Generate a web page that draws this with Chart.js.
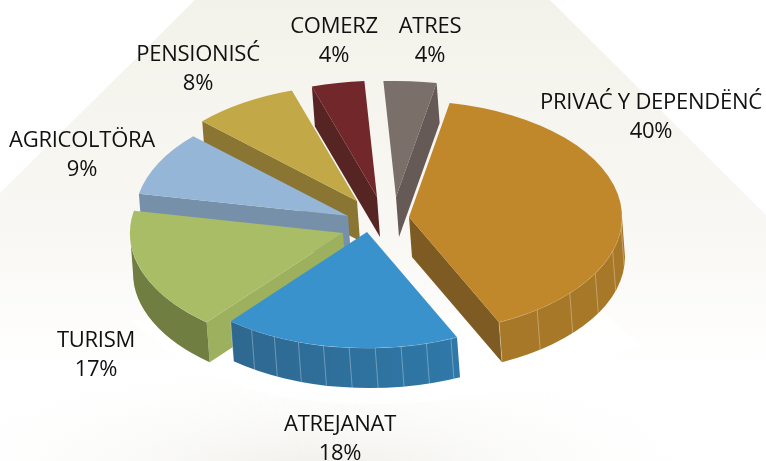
<!DOCTYPE html>
<html>
<head>
<meta charset="utf-8">
<title>Pie</title>
<script src="https://cdn.jsdelivr.net/npm/chart.js@4"></script>
<style>
  html, body { margin: 0; padding: 0; background: #fff; }
  canvas { display: block; }
</style>
</head>
<body>
<canvas id="pieChart" width="766" height="461"></canvas>
<script>
/* ===== DATA ===== */
const categories = ["PRIVAĆ Y DEPENDËNĆ", "ATREJANAT", "TURISM", "AGRICOLTÖRA", "PENSIONISĆ", "COMERZ", "ATRES"];
const shares = [40, 18, 17, 9, 8, 4, 4];

/* ===== STYLE ===== */
const topColors = ["#C1882B", "#3A92CC", "#A8BD66", "#95B6D6", "#C2A846", "#72272A", "#7B6F69"];
const wallColors = ["#A87829", "#2E6890", "#707E42", "#7790AA", "#8A7532", "#562423", "#655A55"];
const wallColorsEnd = ["#A87829", "#2F78A8", "#707E42", "#7790AA", "#8A7532", "#562423", "#655A55"];
const cutColors = ["#7E5B22", "#2E6890", "#9DB05D", "#7790AA", "#8A7532", "#562423", "#655A55"];
const ribSteps = [12, 7, 0, 0, 0, 0, 0];

// pieces are pulled apart by hand in the picture, not only along their middle angle
const pullX = [36, -6, -30, -25, -16, 4, 23];
const pullY = [1, 16, 17, 0, -15, -19, -19];
const wallOrder = [6, 5, 4, 3, 0, 2, 1];

const labelX = [651, 340, 96, 82, 198, 334, 430];
const labelY = [109, 431, 347, 147, 61, 33, 33];

const tilt = 0.545;
const pieY = 216;
const depth = 40;
const depthX = 3;

function toScreenY(chart, y) {
  const mid = (chart.chartArea.top + chart.chartArea.bottom) / 2;
  return pieY + (y - mid) * tilt;
}

function drawBackdrop(ctx) {
  const fan = ctx.createLinearGradient(0, 0, 0, 370);
  fan.addColorStop(0, "#F3F2EA");
  fan.addColorStop(0.6, "#F8F7F3");
  fan.addColorStop(1, "#FFFFFF");
  ctx.fillStyle = fan;
  ctx.beginPath();
  ctx.moveTo(195, 0);
  ctx.lineTo(550, 0);
  ctx.lineTo(766, 215);
  ctx.lineTo(766, 370);
  ctx.lineTo(0, 370);
  ctx.lineTo(0, 193);
  ctx.closePath();
  ctx.fill();

  // pale glow along the bottom, strongest left of the middle
  ctx.save();
  ctx.translate(320, 475);
  ctx.scale(1, 0.3);
  const floor = ctx.createRadialGradient(0, 0, 0, 0, 0, 420);
  floor.addColorStop(0, "#EFEEE8");
  floor.addColorStop(1, "rgba(255,255,255,0)");
  ctx.fillStyle = floor;
  ctx.fillRect(-420, -420, 840, 840);
  ctx.restore();

  // white band under the pie
  ctx.fillStyle = "rgba(255,255,255,0.8)";
  ctx.beginPath();
  ctx.moveTo(600, 310);
  ctx.lineTo(640, 345);
  ctx.quadraticCurveTo(470, 420, 300, 400);
  ctx.quadraticCurveTo(200, 385, 130, 320);
  ctx.closePath();
  ctx.fill();
}

function drawWalls(chart) {
  const ctx = chart.ctx;
  const arcs = chart.getDatasetMeta(0).data;
  wallOrder.forEach(i => {
    const el = arcs[i];
    const R = el.outerRadius;
    const cy = toScreenY(chart, el.y);
    const s = el.startAngle;
    const e = el.endAngle;

    // straight cut faces, only the ones turned to the viewer
    [[s, Math.cos(s) < -0.1], [e, Math.cos(e) > 0.1]].forEach(([a, visible]) => {
      if (!visible) return;
      const rimX = el.x + R * Math.cos(a);
      const rimY = cy + R * tilt * Math.sin(a);
      ctx.fillStyle = cutColors[i];
      ctx.beginPath();
      ctx.moveTo(el.x, cy);
      ctx.lineTo(rimX, rimY);
      ctx.lineTo(rimX + depthX, rimY + depth);
      ctx.lineTo(el.x + depthX, cy + depth);
      ctx.closePath();
      ctx.fill();
    });

    // round outer face, front half only
    const a1 = Math.max(s, 0);
    const a2 = Math.min(e, Math.PI);
    if (a2 > a1) {
      const grad = ctx.createLinearGradient(el.x + R * Math.cos(a2), 0, el.x + R * Math.cos(a1), 0);
      grad.addColorStop(0, wallColors[i]);
      grad.addColorStop(1, wallColorsEnd[i]);
      ctx.fillStyle = grad;
      ctx.beginPath();
      ctx.ellipse(el.x, cy, R, R * tilt, 0, a1, a2);
      ctx.ellipse(el.x + depthX, cy + depth, R, R * tilt, 0, a2, a1, true);
      ctx.closePath();
      ctx.fill();

      ctx.strokeStyle = "rgba(255,255,255,0.3)";
      ctx.lineWidth = 1;
      if (ribSteps[i]) {
        const step = ribSteps[i] * Math.PI / 180;
        for (let a = a2; a > a1; a -= step) {
          const x = el.x + R * Math.cos(a);
          const y = cy + R * tilt * Math.sin(a);
          ctx.beginPath();
          ctx.moveTo(x, y);
          ctx.lineTo(x + depthX, y + depth);
          ctx.stroke();
        }
      }
      ctx.beginPath();
      ctx.ellipse(el.x, cy, R, R * tilt, 0, a1, a2);
      ctx.stroke();
    }
  });
}

const tiltedPie = {
  id: "tiltedPie",
  beforeDraw(chart) {
    drawBackdrop(chart.ctx);
  },
  afterDatasetsUpdate(chart) {
    chart.getDatasetMeta(0).data.forEach((el, i) => {
      el.x += pullX[i];
      el.y += pullY[i] / tilt;
    });
  },
  beforeDatasetsDraw(chart) {
    drawWalls(chart);
    const ctx = chart.ctx;
    const mid = (chart.chartArea.top + chart.chartArea.bottom) / 2;
    ctx.save();
    ctx.translate(0, pieY);
    ctx.scale(1, tilt);
    ctx.translate(0, -mid);
  },
  afterDatasetsDraw(chart) {
    chart.ctx.restore();
  },
  afterDraw(chart) {
    const ctx = chart.ctx;
    ctx.save();
    ctx.font = "22px 'Open Sans'";
    ctx.letterSpacing = "-0.25px";
    ctx.fillStyle = "#111111";
    ctx.textAlign = "center";
    categories.forEach((name, i) => {
      ctx.fillText(name, labelX[i], labelY[i]);
      ctx.fillText(shares[i] + "%", labelX[i], labelY[i] + 29);
    });
    ctx.restore();
  }
};

/* ===== PIE CHART ===== */
new Chart(document.getElementById("pieChart"), {
  type: "pie",
  data: {
    labels: categories,
    datasets: [{
      data: shares,
      backgroundColor: topColors,
      borderWidth: 0,
      radius: 213,
      clip: false
    }]
  },
  options: {
    responsive: false,
    animation: false,
    events: [],
    rotation: 11,
    layout: { padding: { right: 20 } },
    plugins: {
      legend: { display: false },
      tooltip: { enabled: false }
    }
  },
  plugins: [tiltedPie]
});
</script>
</body>
</html>
